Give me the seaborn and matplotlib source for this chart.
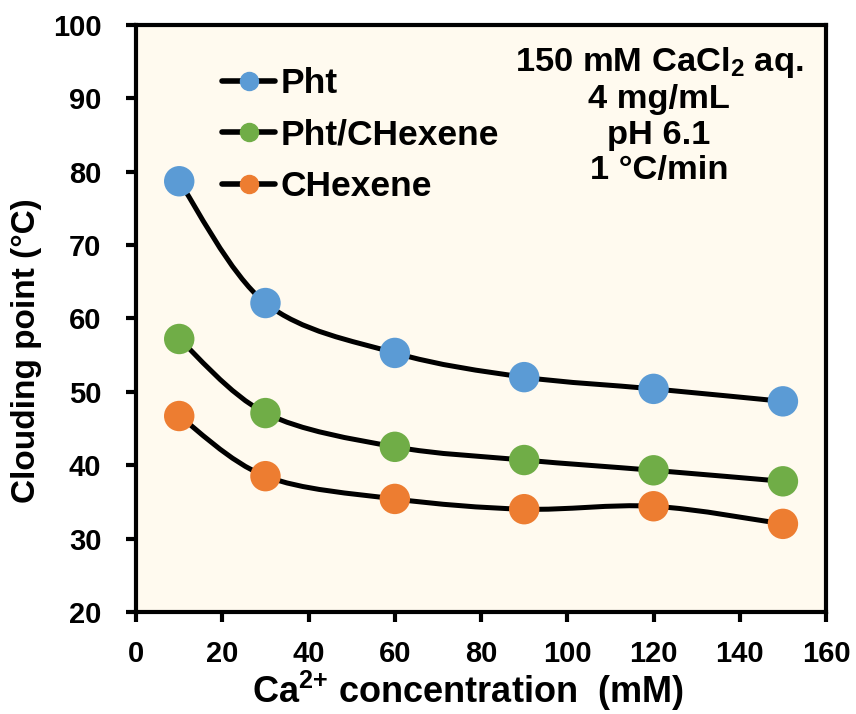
import numpy as np
import pandas as pd
import seaborn as sns
import matplotlib.pyplot as plt
from matplotlib.path import Path
from matplotlib.patches import PathPatch
from matplotlib.lines import Line2D

# data
ca_mM = [10, 30, 60, 90, 120, 150]
pht = [78.7, 62.1, 55.3, 52.0, 50.4, 48.7]
pht_chexene = [57.2, 47.1, 42.5, 40.7, 39.3, 37.8]
chexene = [46.7, 38.5, 35.4, 34.0, 34.4, 32.0]

series_names = ['Pht', 'Pht/CHexene', 'CHexene']
series_colors = ['#5B9BD5', '#70AD47', '#ED7D31']

df = pd.DataFrame({
    'x': ca_mM * 3,
    'y': pht + pht_chexene + chexene,
    'series': sum([[n] * len(ca_mM) for n in series_names], []),
})

sns.set_theme(style='white')
plt.rcParams['font.family'] = ['Liberation Sans', 'DejaVu Sans']
plt.rcParams['font.weight'] = 'bold'
plt.rcParams['text.color'] = 'black'
plt.rcParams['axes.labelcolor'] = 'black'
plt.rcParams['xtick.color'] = 'black'
plt.rcParams['ytick.color'] = 'black'
plt.rcParams['mathtext.fontset'] = 'custom'
plt.rcParams['mathtext.rm'] = 'Liberation Sans:bold'
plt.rcParams['mathtext.bf'] = 'Liberation Sans:bold'
plt.rcParams['mathtext.default'] = 'bf'


def smooth_path(xs, ys):
    # Excel-like smoothed line: Catmull-Rom segments as cubic Beziers
    xs = np.asarray(xs, float)
    ys = np.asarray(ys, float)
    n = len(xs)
    verts = [(xs[0], ys[0])]
    codes = [Path.MOVETO]
    for i in range(n - 1):
        p0 = (xs[max(i - 1, 0)], ys[max(i - 1, 0)])
        p1 = (xs[i], ys[i])
        p2 = (xs[i + 1], ys[i + 1])
        p3 = (xs[min(i + 2, n - 1)], ys[min(i + 2, n - 1)])
        c1 = (p1[0] + (p2[0] - p0[0]) / 6, p1[1] + (p2[1] - p0[1]) / 6)
        c2 = (p2[0] - (p3[0] - p1[0]) / 6, p2[1] - (p3[1] - p1[1]) / 6)
        verts += [c1, c2, p2]
        codes += [Path.CURVE4] * 3
    return Path(verts, codes)


fig = plt.figure(figsize=(8.56, 7.14), dpi=100)
ax = fig.add_axes([0.159, 0.143, 0.806, 0.822])
ax.set_facecolor('#FFFAEF')

for vals in [pht, pht_chexene, chexene]:
    ax.add_patch(PathPatch(smooth_path(ca_mM, vals), facecolor='none',
                           edgecolor='black', lw=3.6, zorder=2,
                           capstyle='round'))

sns.scatterplot(data=df, x='x', y='y', hue='series', palette=series_colors,
                s=480, edgecolor='none', legend=False, ax=ax, zorder=3)

ax.set_xlim(0, 160)
ax.set_ylim(20, 100)
ax.set_xticks(np.arange(0, 161, 20))
ax.set_yticks(np.arange(20, 101, 10))
for sp in ax.spines.values():
    sp.set_color('black')
    sp.set_linewidth(3)
ax.tick_params(axis='both', direction='out', length=7, width=3,
               color='black', labelsize=21, bottom=True, left=True)
ax.tick_params(axis='y', pad=18)
ax.tick_params(axis='x', pad=13)

ax.set_xlabel('Ca$^{2{+}}$ concentration  (mM)', fontsize=26,
              fontweight='bold')
ax.xaxis.set_label_coords(0.481, -0.097)
ax.xaxis.label.set_va('top')
ax.set_ylabel('Clouding point (°C)', fontsize=24, fontweight='bold')
ax.yaxis.set_label_coords(-0.136, 0.445)

handles = [Line2D([0], [0], color='black', lw=4, marker='o', markersize=13,
                  markerfacecolor=c, markeredgecolor=c)
           for c in series_colors]
ax.legend(handles, series_names, loc='upper left',
          bbox_to_anchor=(0.125, 0.928), frameon=False,
          prop={'weight': 'bold', 'size': 25.5}, handlelength=1.5,
          handletextpad=0.15, labelspacing=0.52, borderpad=0,
          borderaxespad=0)

ax.text(0.758, 0.966,
        '150 mM CaCl$_{2}$ aq.\n4 mg/mL\npH 6.1\n1 °C/min',
        transform=ax.transAxes, ha='center', va='top', fontsize=24.8,
        fontweight='bold', linespacing=1.18)

fig.savefig('out.png', dpi=100)
